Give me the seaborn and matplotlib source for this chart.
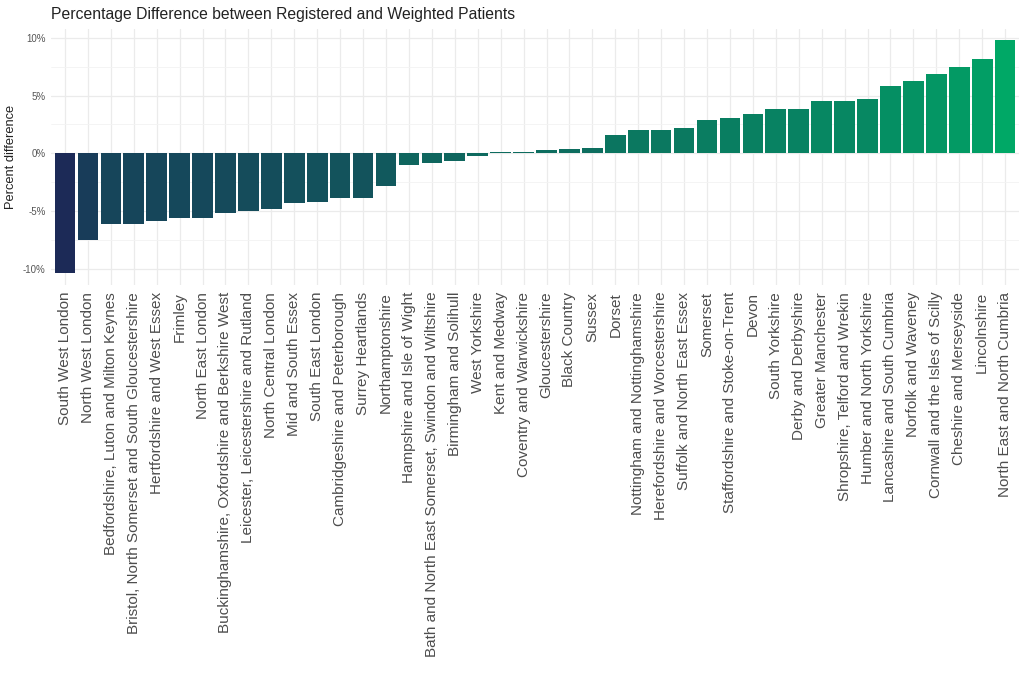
import numpy as np
import pandas as pd
import seaborn as sns
import matplotlib.pyplot as plt
from matplotlib.colors import LinearSegmentedColormap, Normalize
from matplotlib.ticker import FuncFormatter, MultipleLocator

sns.set_theme(style="whitegrid")
plt.rcParams['font.family'] = ['Liberation Sans', 'DejaVu Sans']

regions = [
    "South West London", "North West London", "Bedfordshire, Luton and Milton Keynes",
    "Bristol, North Somerset and South Gloucestershire", "Hertfordshire and West Essex",
    "Frimley", "North East London", "Buckinghamshire, Oxfordshire and Berkshire West",
    "Leicester, Leicestershire and Rutland", "North Central London", "Mid and South Essex",
    "South East London", "Cambridgeshire and Peterborough", "Surrey Heartlands",
    "Northamptonshire", "Hampshire and Isle of Wight",
    "Bath and North East Somerset, Swindon and Wiltshire", "Birmingham and Solihull",
    "West Yorkshire", "Kent and Medway", "Coventry and Warwickshire", "Gloucestershire",
    "Black Country", "Sussex", "Dorset", "Nottingham and Nottinghamshire",
    "Herefordshire and Worcestershire", "Suffolk and North East Essex", "Somerset",
    "Staffordshire and Stoke-on-Trent", "Devon", "South Yorkshire", "Derby and Derbyshire",
    "Greater Manchester", "Shropshire, Telford and Wrekin", "Humber and North Yorkshire",
    "Lancashire and South Cumbria", "Norfolk and Waveney", "Cornwall and the Isles of Scilly",
    "Cheshire and Merseyside", "Lincolnshire", "North East and North Cumbria",
]
pct_diff = [
    -10.4, -7.5, -6.1, -6.1, -5.9, -5.6, -5.6, -5.2, -5.0, -4.8, -4.3, -4.2, -3.9, -3.9,
    -2.8, -1.0, -0.8, -0.7, -0.2, 0.15, 0.15, 0.3, 0.35, 0.5, 1.6, 2.0, 2.0, 2.2, 2.9, 3.1,
    3.4, 3.8, 3.8, 4.5, 4.5, 4.7, 5.8, 6.3, 6.9, 7.5, 8.2, 9.8,
]

df = pd.DataFrame({"region": regions, "pct": pct_diff})

cmap = LinearSegmentedColormap.from_list("navy_green", ["#1c2a57", "#00a866"])
norm = Normalize(vmin=min(pct_diff), vmax=max(pct_diff))
palette = {r: cmap(norm(v)) for r, v in zip(regions, pct_diff)}

fig, ax = plt.subplots(figsize=(10.24, 6.83), dpi=100)
fig.subplots_adjust(left=0.05, right=0.995, top=0.958, bottom=0.583)

sns.barplot(data=df, x="region", y="pct", hue="region", palette=palette,
            legend=False, width=0.9, saturation=1, linewidth=0, ax=ax, zorder=2)

ax.set_xlim(-0.6, len(regions) - 0.4)
ax.set_ylim(-11.41, 10.81)
ax.yaxis.set_major_locator(MultipleLocator(5))
ax.yaxis.set_minor_locator(MultipleLocator(2.5))
ax.yaxis.set_major_formatter(FuncFormatter(lambda v, p: f"{v:.0f}%"))
ax.grid(which="major", color="#ebebeb", linewidth=0.9, zorder=0)
ax.grid(which="minor", axis="y", color="#f3f3f3", linewidth=0.6, zorder=0)
for s in ax.spines.values():
    s.set_visible(False)

ax.tick_params(axis="x", labelrotation=90, labelsize=11, colors="#4d4d4d", length=0, pad=5)
ax.tick_params(axis="y", labelsize=7, colors="#555555", length=0, pad=4)
ax.tick_params(which="minor", length=0)
for lab in ax.get_xticklabels():
    lab.set_verticalalignment("top")
    lab.set_horizontalalignment("center")

ax.set_xlabel("")
ax.set_ylabel("Percent difference", fontsize=9.3, color="#222222", labelpad=4)
ax.set_title("Percentage Difference between Registered and Weighted Patients",
             loc="left", fontsize=11.3, color="#222222", pad=7)

fig.savefig("out.png", dpi=100)
